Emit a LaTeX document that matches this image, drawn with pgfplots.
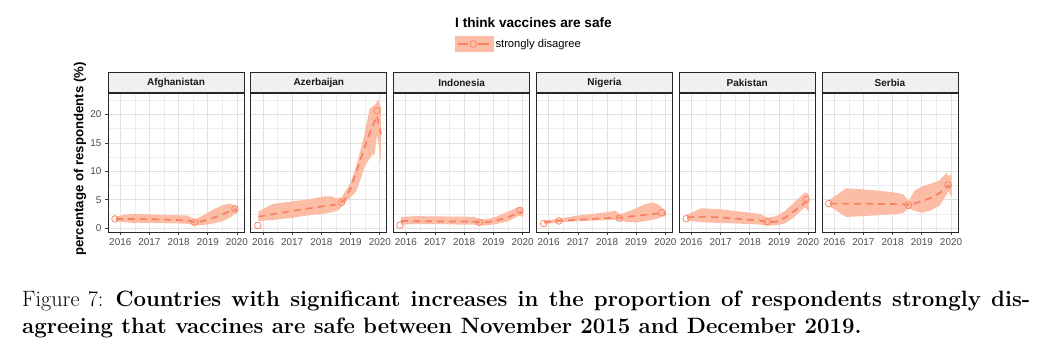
\documentclass[border=0pt]{standalone}
\usepackage{fontspec}
\usepackage{pgfplots}
\pgfplotsset{compat=1.18}
\usepgfplotslibrary{fillbetween}
\newfontfamily\arial{Liberation Sans}
\definecolor{ribfill}{RGB}{252,189,166}
\definecolor{linecol}{RGB}{249,128,98}
\definecolor{ptcol}{RGB}{248,136,106}
\pgfplotsset{
  mline/.style={linecol, line width=1.7pt, dash pattern=on 7pt off 5pt, no marks, forget plot},
  mpts/.style={only marks, mark=o, mark size=3.3pt, mark options={ptcol, line width=0.8pt, solid}, forget plot},
  bnd/.style={draw=none, no marks, forget plot},
  panel/.style={
    scale only axis, width=136pt, height=139pt, anchor=south west,
    xmin=2015.58, xmax=2020.24, ymin=-0.7, ymax=23.8,
    xtick={2016,2017,2018,2019,2020}, xticklabels={2016,2017,2018,2019,2020},
    ytick={0,5,10,15,20},
    minor xtick={2016.5,2017.5,2018.5,2019.5},
    minor ytick={2.5,7.5,12.5,17.5,22.5},
    grid=both,
    major grid style={draw=black!12, line width=0.8pt},
    minor grid style={draw=black!7, line width=0.5pt},
    tick align=outside, tick pos=left,
    major tick length=3pt, minor tick length=0pt,
    tick style={black!75, line width=0.7pt},
    axis line style={black!85, line width=0.9pt},
    /pgf/number format/assume math mode=true,
    tick label style={font=\arial\fontsize{9.9}{10}\selectfont, text=black!70},
    every axis title shift=0pt,
    title style={at={(0.5,1)}, anchor=south, draw=black!85, fill=black!6, line width=0.9pt,
      minimum width=136pt, minimum height=20pt, inner sep=0pt,
      font=\arial\bfseries\fontsize{10}{11}\selectfont, text=black!90},
  },
  noy/.style={yticklabels={}, ytick style={draw=none}},
}
\begin{document}
\begin{tikzpicture}[x=1pt,y=1pt]

% ---------------- Afghanistan
\begin{axis}[panel, at={(108pt,121pt)}, title={Afghanistan}, yticklabels={0,5,10,15,20},
  legend style={at={(2.551,1.3525)}, anchor=west, draw=none, fill=none, inner sep=0pt,
    font=\arial\fontsize{11.2}{13}\selectfont, legend cell align=left,
    /tikz/every even column/.append style={column sep=7pt}},
  legend image code/.code={
    \fill[ribfill] (0pt,-7.5pt) rectangle (38pt,7.5pt);
    \draw[linecol, line width=1.7pt] (3pt,0pt) -- (13pt,0pt);
    \draw[linecol, line width=1.7pt] (23pt,0pt) -- (34pt,0pt);
    \draw[ptcol, line width=0.8pt] (18pt,0pt) circle (3.4pt);
  }]
\addlegendimage{ribfill}
\addlegendentry{strongly disagree}
\addplot[bnd, name path=u1] coordinates {(2015.85,2.0) (2016.2,2.4) (2016.5,2.5) (2017,2.4) (2017.5,2.3) (2018,2.25) (2018.3,2.2) (2018.55,1.5) (2018.8,2.1) (2019.2,3.3) (2019.5,4.0) (2019.75,4.3) (2019.92,4.0) (2020.02,3.6)};
\addplot[bnd, name path=l1] coordinates {(2015.85,1.2) (2016.2,1.0) (2016.5,0.9) (2017,0.9) (2017.5,0.85) (2018,0.8) (2018.3,0.75) (2018.55,0.5) (2018.8,0.5) (2019.2,0.8) (2019.5,1.2) (2019.75,1.8) (2019.92,2.5) (2020.02,2.6)};
\addplot[fill=ribfill, draw=none, forget plot] fill between[of=u1 and l1];
\addplot[mline] coordinates {(2015.85,1.6) (2016.5,1.6) (2017.0,1.55) (2017.5,1.5) (2018.0,1.4) (2018.3,1.35) (2018.55,1.05) (2018.8,1.2) (2019.0,1.5) (2019.3,2.0) (2019.6,2.6) (2019.85,3.2) (2019.95,3.3) (2020.02,3.1)};
\addplot[mpts] coordinates {(2015.82,1.6) (2018.55,1.0) (2019.93,3.4)};
\end{axis}

% ---------------- Azerbaijan
\begin{axis}[panel, noy, at={(250.8pt,121pt)}, title={Azerbaijan}]
\addplot[bnd, name path=u2] coordinates {(2015.84,2.9) (2016.3,4.2) (2017,4.7) (2017.5,5.0) (2018.1,5.6) (2018.35,5.6) (2018.5,5.2) (2018.7,5.5) (2019.0,8.0) (2019.2,11.0) (2019.45,16.0) (2019.65,21.0) (2019.85,21.8) (2019.95,22.6) (2020.04,21.2)};
\addplot[bnd, name path=l2] coordinates {(2015.84,1.2) (2016.3,1.4) (2017,1.8) (2017.5,2.2) (2018.2,2.6) (2018.45,2.9) (2018.6,3.2) (2018.8,4.5) (2019.0,5.4) (2019.2,6.5) (2019.5,11.0) (2019.75,13.0) (2019.83,13.0) (2019.9,16.5) (2019.95,15.0) (2020.04,11.3)};
\addplot[fill=ribfill, draw=none, forget plot] fill between[of=u2 and l2];
\addplot[mline] coordinates {(2015.84,2.0) (2016.5,2.6) (2017,3.0) (2017.5,3.4) (2018,3.8) (2018.3,4.0) (2018.6,4.2) (2018.8,5.0) (2019.0,7.0) (2019.2,10.0) (2019.4,13.0) (2019.6,16.0) (2019.8,18.5) (2019.9,19.8) (2020.04,16.5)};
\addplot[mpts] coordinates {(2015.82,0.45) (2018.69,4.5) (2019.9,20.7)};
\end{axis}

% ---------------- Indonesia
\begin{axis}[panel, noy, at={(393.6pt,121pt)}, title={Indonesia}]
\addplot[bnd, name path=u3] coordinates {(2015.83,1.9) (2016.3,2.1) (2017,2.05) (2018,2.0) (2018.35,1.95) (2018.55,1.5) (2018.8,1.6) (2019.1,2.0) (2019.5,2.9) (2019.85,3.7) (2020.02,3.5)};
\addplot[bnd, name path=l3] coordinates {(2015.83,0.6) (2016.3,0.7) (2017,0.7) (2018,0.6) (2018.35,0.6) (2018.55,0.45) (2018.8,0.5) (2019.1,0.7) (2019.5,1.2) (2019.85,2.1) (2020.02,2.0)};
\addplot[fill=ribfill, draw=none, forget plot] fill between[of=u3 and l3];
\addplot[mline] coordinates {(2015.83,1.25) (2016.5,1.2) (2017.5,1.15) (2018.3,1.15) (2018.55,1.0) (2018.8,1.05) (2019.1,1.3) (2019.5,1.9) (2019.9,2.8) (2020.02,2.7)};
\addplot[mpts] coordinates {(2015.80,0.5) (2018.52,1.0) (2019.91,3.1)};
\end{axis}

% ---------------- Nigeria
\begin{axis}[panel, noy, at={(536.4pt,121pt)}, title={Nigeria}]
\addplot[bnd, name path=u4] coordinates {(2015.85,1.3) (2016.35,1.65) (2017,2.2) (2017.5,2.5) (2018.0,2.8) (2018.3,3.05) (2018.45,2.4) (2018.7,2.9) (2019.0,3.5) (2019.3,4.2) (2019.55,4.5) (2019.75,4.2) (2019.9,3.5) (2020.02,3.1)};
\addplot[bnd, name path=l4] coordinates {(2015.85,0.7) (2016.35,1.0) (2017,1.2) (2017.5,1.3) (2018.0,1.4) (2018.3,1.45) (2018.45,1.3) (2018.7,1.05) (2019.0,1.0) (2019.3,1.2) (2019.55,1.45) (2019.75,1.7) (2019.9,2.0) (2020.02,2.0)};
\addplot[fill=ribfill, draw=none, forget plot] fill between[of=u4 and l4];
\addplot[mline] coordinates {(2015.85,1.0) (2016.35,1.25) (2017,1.45) (2017.5,1.6) (2018.0,1.75) (2018.42,1.85) (2019.0,2.15) (2019.5,2.45) (2019.9,2.6) (2020.02,2.5)};
\addplot[mpts] coordinates {(2015.83,0.8) (2016.35,1.25) (2018.42,1.75) (2019.87,2.7)};
\end{axis}

% ---------------- Pakistan
\begin{axis}[panel, noy, at={(679.2pt,121pt)}, title={Pakistan}]
\addplot[bnd, name path=u5] coordinates {(2015.85,2.4) (2016.35,3.5) (2017,3.3) (2017.5,3.0) (2018,2.7) (2018.35,2.5) (2018.6,1.8) (2018.9,2.1) (2019.2,3.0) (2019.5,4.4) (2019.8,5.9) (2019.9,6.3) (2020.02,5.9)};
\addplot[bnd, name path=l5] coordinates {(2015.85,1.35) (2016.35,1.0) (2017,0.9) (2017.5,0.8) (2018,0.7) (2018.35,0.6) (2018.6,0.4) (2018.9,0.5) (2019.2,0.8) (2019.5,1.8) (2019.8,3.3) (2019.9,3.7) (2020.02,2.8)};
\addplot[fill=ribfill, draw=none, forget plot] fill between[of=u5 and l5];
\addplot[mline] coordinates {(2015.85,1.9) (2016.5,2.0) (2017,1.85) (2017.5,1.65) (2018,1.45) (2018.3,1.35) (2018.6,1.05) (2018.9,1.1) (2019.2,1.8) (2019.5,2.9) (2019.75,3.9) (2019.93,4.7) (2020.02,4.1)};
\addplot[mpts] coordinates {(2015.82,1.65) (2018.6,1.15) (2019.93,5.0)};
\end{axis}

% ---------------- Serbia
\begin{axis}[panel, noy, at={(822pt,121pt)}, title={Serbia}]
\addplot[bnd, name path=u6] coordinates {(2015.85,5.0) (2016.4,7.0) (2017,6.8) (2017.5,6.6) (2018,6.3) (2018.35,6.0) (2018.55,4.8) (2018.75,6.6) (2019.0,7.3) (2019.3,7.8) (2019.6,8.4) (2019.85,9.7) (2019.9,9.2) (2020.02,9.4)};
\addplot[bnd, name path=l6] coordinates {(2015.85,3.8) (2016.4,1.95) (2017,2.1) (2017.5,2.25) (2018,2.4) (2018.35,2.6) (2018.55,3.5) (2018.75,3.0) (2019.0,2.7) (2019.3,3.1) (2019.6,3.9) (2019.85,5.9) (2019.92,6.5) (2020.02,5.3)};
\addplot[fill=ribfill, draw=none, forget plot] fill between[of=u6 and l6];
\addplot[mline] coordinates {(2015.85,4.3) (2016.5,4.3) (2017.5,4.25) (2018.3,4.2) (2018.55,4.05) (2018.8,4.4) (2019.1,4.9) (2019.4,5.5) (2019.7,6.5) (2019.9,7.5) (2020.02,7.2)};
\addplot[mpts] coordinates {(2015.81,4.3) (2018.54,4.0) (2019.9,7.6)};
\end{axis}

% legend title, y label, caption
\node[anchor=west, inner sep=0pt, font=\arial\bfseries\fontsize{13.6}{15}\selectfont] at (455,330.3) {I think vaccines are safe};
\node[rotate=90, inner sep=0pt, font=\arial\bfseries\fontsize{13.2}{15}\selectfont] at (80,194) {percentage of respondents (\%)};
\node[anchor=base west, inner sep=0pt, font=\fontsize{22.2}{27}\selectfont] at (22,46) {\makebox[1008pt][s]{Figure 7: \textbf{Countries with significant increases in the proportion of respondents strongly dis-}}};
\node[anchor=base west, inner sep=0pt, font=\fontsize{22.2}{27}\selectfont] at (22,19) {\textbf{agreeing that vaccines are safe between November 2015 and December 2019.}};
\pgfresetboundingbox
\path[use as bounding box] (0,0) rectangle (1043,353);
\end{tikzpicture}
\end{document}
